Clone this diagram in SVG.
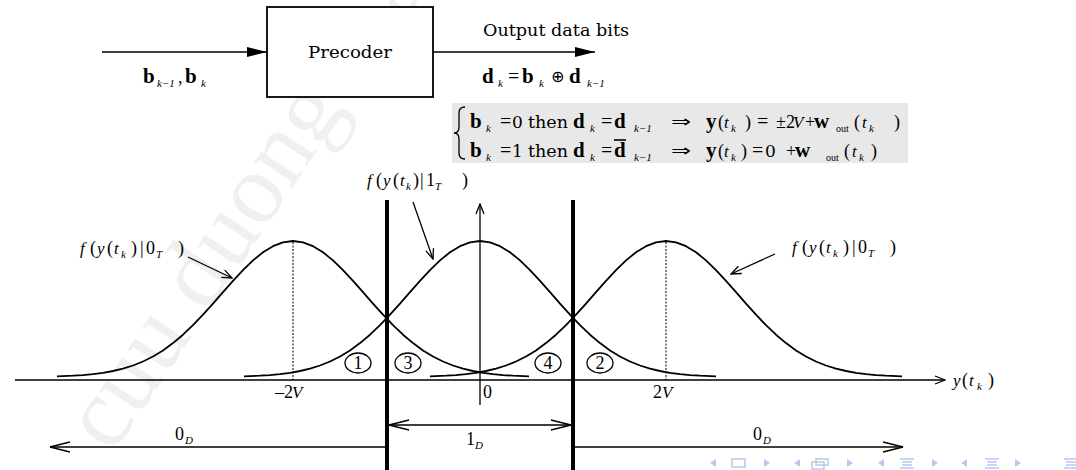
<svg xmlns="http://www.w3.org/2000/svg" xmlns:xlink="http://www.w3.org/1999/xlink" width="1076" height="470" viewBox="0 0 1076 470">
<style>
.ln{stroke:#000;stroke-width:1.3;fill:none}
.thick{stroke:#000;stroke-width:4;fill:none}
.cv{stroke:#000;stroke-width:1.8;fill:none;stroke-linejoin:round}
.dot{stroke:#000;stroke-width:1;stroke-dasharray:2,1.5;fill:none}
.t{font-family:"DejaVu Serif",serif;font-size:17px;fill:#000}
.m{font-family:"Liberation Serif",serif;font-size:18px;fill:#000}
.eq{font-family:"Liberation Serif",serif;font-size:20px;fill:#000}
.bd{font-family:"Liberation Serif",serif;font-size:21px;font-weight:bold;fill:#000}
.it{font-family:"Liberation Serif",serif;font-size:17px;font-style:italic;fill:#000}
.sub{font-family:"Liberation Serif",serif;font-size:11px;font-style:italic;fill:#000}
.subr{font-family:"Liberation Serif",serif;font-size:10px;fill:#000}
.sym{font-family:"DejaVu Sans",sans-serif;font-size:16px;fill:#000}
.circ{stroke:#000;stroke-width:1.3;fill:none}
.nav{fill:#b9c9ec}
.navs{stroke:#b9c9ec;stroke-width:1.5;fill:none}
</style>
<defs>
<marker id="af" viewBox="0 0 20 10" refX="20" refY="5" markerWidth="20" markerHeight="10" markerUnits="userSpaceOnUse" orient="auto"><path d="M0,0 L20,5 L0,10 z" fill="#000"/></marker>
<marker id="aoL" viewBox="0 0 22 12" refX="21" refY="6" markerWidth="22" markerHeight="12" markerUnits="userSpaceOnUse" orient="auto-start-reverse"><path d="M1,1 L21,6 L1,11" fill="none" stroke="#000" stroke-width="1.3"/></marker>
<marker id="aoS" viewBox="0 0 12 10" refX="11" refY="5" markerWidth="12" markerHeight="10" markerUnits="userSpaceOnUse" orient="auto"><path d="M1,1 L11,5 L1,9" fill="none" stroke="#000" stroke-width="1.3"/></marker>
<path id="gauss" d="M-236,376.3 L-220,375.7 L-210,375.1 L-200,374.1 L-190,372.8 L-180,371 L-170,368.6 L-160,365.5 L-150,361.5 L-140,356.5 L-130,350.4 L-120,343.1 L-110,334.7 L-100,325.2 L-90,314.7 L-80,303.6 L-70,292.2 L-60,280.9 L-50,270.1 L-40,260.4 L-30,252.3 L-20,246.2 L-10,242.3 L0,241 L10,242.3 L20,246.2 L30,252.3 L40,260.4 L50,270.1 L60,280.9 L70,292.2 L80,303.6 L90,314.7 L100,325.2 L110,334.7 L120,343.1 L130,350.4 L140,356.5 L150,361.5 L160,365.5 L170,368.6 L180,371 L190,372.8 L200,374.1 L210,375.1 L220,375.7 L236,376.3"/>
</defs>

<g id="watermark">
<text x="0" y="0" transform="translate(112,455) rotate(-56)" font-family="Liberation Serif, serif" font-size="100" fill="#f0f0f0">cuu duong than cong</text>
</g>

<g id="precoder">
<rect x="267" y="7" width="166" height="90" fill="#fff" stroke="#000" stroke-width="1.8"/>
<text class="t" x="308" y="58" textLength="84" lengthAdjust="spacingAndGlyphs">Precoder</text>
</g>

<g id="input-label">
<text class="bd" x="143" y="83" font-size="20">b</text>
<text class="sub" x="157" y="87" font-size="10">k−1</text>
<text class="m" x="178" y="83">,</text>
<text class="bd" x="185" y="83" font-size="20">b</text>
<text class="sub" x="201" y="87" font-size="10">k</text>
</g>

<g id="output-label">
<text class="t" x="483" y="36" textLength="146" lengthAdjust="spacingAndGlyphs">Output data bits</text>
<text class="bd" x="482" y="83" font-size="20">d</text>
<text class="sub" x="498" y="87" font-size="10">k</text>
<text class="eq" x="508" y="83">=</text>
<text class="bd" x="522" y="83" font-size="20">b</text>
<text class="sub" x="539" y="87" font-size="10">k</text>
<text class="sym" x="551" y="82" font-size="15">⊕</text>
<text class="bd" x="569" y="83" font-size="20">d</text>
<text class="sub" x="587" y="87" font-size="10">k−1</text>
</g>

<g id="equations">
<rect x="452" y="103" width="456" height="60" fill="#e8e8e8"/>
<path d="M465,107 Q459,107 459,113 L459,127 Q459,133 454,133 Q459,133 459,139 L459,153 Q459,159 465,159" class="ln" stroke-width="1.4"/>
<!-- line 1 -->
<text class="bd" x="470" y="128">b</text>
<text class="sub" x="486" y="132">k</text>
<text class="eq" x="500" y="128">=</text>
<text class="t" x="512" y="128">0</text>
<text class="t" x="528" y="128" textLength="40" lengthAdjust="spacingAndGlyphs">then</text>
<text class="bd" x="573" y="128">d</text>
<text class="sub" x="590" y="132">k</text>
<text class="eq" x="601" y="128">=</text>
<text class="bd" x="614" y="128">d</text>
<text class="sub" x="634" y="132" font-size="10">k−1</text>
<text class="sym" x="671" y="127" font-size="17" textLength="20" lengthAdjust="spacingAndGlyphs">⇒</text>
<text class="bd" x="706" y="128">y</text>
<text class="m" x="718" y="128">(</text>
<text class="it" x="724" y="128">t</text>
<text class="sub" x="731" y="132">k</text>
<text class="m" x="745" y="128">)</text>
<text class="eq" x="757" y="128">=</text>
<text class="m" x="776" y="128">±2</text>
<text class="it" x="793" y="128">V</text>
<text class="m" x="805" y="128">+</text>
<text class="bd" x="814" y="128">w</text>
<text class="subr" x="836" y="132">out</text>
<text class="m" x="854" y="128">(</text>
<text class="it" x="862" y="128">t</text>
<text class="sub" x="869" y="132">k</text>
<text class="m" x="894" y="128">)</text>
<!-- line 2 -->
<text class="bd" x="470" y="157">b</text>
<text class="sub" x="486" y="161">k</text>
<text class="eq" x="500" y="157">=</text>
<text class="t" x="512" y="157">1</text>
<text class="t" x="528" y="157" textLength="40" lengthAdjust="spacingAndGlyphs">then</text>
<text class="bd" x="573" y="157">d</text>
<text class="sub" x="590" y="161">k</text>
<text class="eq" x="601" y="157">=</text>
<text class="bd" x="614" y="157">d</text>
<line x1="614" y1="140" x2="626" y2="140" stroke="#000" stroke-width="1.6"/>
<text class="sub" x="634" y="161" font-size="10">k−1</text>
<text class="sym" x="671" y="156" font-size="17" textLength="20" lengthAdjust="spacingAndGlyphs">⇒</text>
<text class="bd" x="706" y="157">y</text>
<text class="m" x="718" y="157">(</text>
<text class="it" x="724" y="157">t</text>
<text class="sub" x="731" y="161">k</text>
<text class="m" x="741" y="157">)</text>
<text class="eq" x="752" y="157">=</text>
<text class="t" x="765" y="157">0</text>
<text class="m" x="786" y="157">+</text>
<text class="bd" x="795" y="157">w</text>
<text class="subr" x="826" y="161">out</text>
<text class="m" x="844" y="157">(</text>
<text class="it" x="852" y="157">t</text>
<text class="sub" x="859" y="161">k</text>
<text class="m" x="871" y="157">)</text>
</g>

<g id="curves">
<use xlink:href="#gauss" href="#gauss" x="293" class="cv"/>
<use xlink:href="#gauss" href="#gauss" x="480" class="cv"/>
<use xlink:href="#gauss" href="#gauss" x="666" class="cv"/>
<line class="dot" x1="293" y1="242" x2="293" y2="380"/>
<line class="dot" x1="666" y1="242" x2="666" y2="380"/>
</g>

<g id="thresholds">
<line class="thick" x1="387" y1="200" x2="387" y2="470"/>
<line class="thick" x1="573" y1="200" x2="573" y2="470"/>
</g>

<g id="regions">
<ellipse class="circ" cx="358" cy="363" rx="13" ry="10"/>
<text class="m" x="358" y="369" text-anchor="middle" font-size="16">1</text>
<ellipse class="circ" cx="408" cy="363" rx="13" ry="10"/>
<text class="m" x="408" y="369" text-anchor="middle" font-size="16">3</text>
<ellipse class="circ" cx="548" cy="363" rx="13" ry="10"/>
<text class="m" x="548" y="369" text-anchor="middle" font-size="16">4</text>
<ellipse class="circ" cx="600" cy="363" rx="13" ry="10"/>
<text class="m" x="600" y="369" text-anchor="middle" font-size="16">2</text>
</g>

<g id="connectors">
<line class="ln" x1="102" y1="52" x2="267" y2="52" stroke-width="1.6" marker-end="url(#af)"/>
<line class="ln" x1="433" y1="52" x2="595" y2="52" stroke-width="1.6" marker-end="url(#af)"/>
<line class="ln" x1="15" y1="380" x2="945" y2="380" marker-end="url(#aoS)"/>
<line class="ln" x1="480" y1="405" x2="480" y2="204" marker-end="url(#aoS)"/>
<line class="ln" x1="188" y1="257" x2="232" y2="278" marker-end="url(#aoS)"/>
<line class="ln" x1="413" y1="202" x2="433" y2="259" marker-end="url(#aoS)"/>
<line class="ln" x1="775" y1="254" x2="731" y2="274" marker-end="url(#aoS)"/>
<line class="ln" x1="389" y1="425" x2="571" y2="425" marker-start="url(#aoL)" marker-end="url(#aoL)"/>
<line class="ln" x1="385" y1="447" x2="50" y2="447" marker-end="url(#aoL)"/>
<line class="ln" x1="575" y1="447" x2="903" y2="447" marker-end="url(#aoL)"/>
</g>

<g id="axis-labels">
<text class="it" x="953" y="386">y</text>
<text class="m" x="962" y="386">(</text>
<text class="it" x="969" y="386">t</text>
<text class="sub" x="977" y="390">k</text>
<text class="m" x="988" y="386">)</text>
<text class="m" x="275" y="398" font-size="16">–2</text>
<text class="it" x="292" y="398" font-size="16">V</text>
<text class="m" x="483" y="398" font-size="16">0</text>
<text class="m" x="653" y="398" font-size="16">2</text>
<text class="it" x="662" y="398" font-size="16">V</text>
<text class="m" x="175" y="440" font-size="16">0</text>
<text class="sub" x="185" y="444">D</text>
<text class="m" x="466" y="445" font-size="16">1</text>
<text class="sub" x="475" y="449">D</text>
<text class="m" x="753" y="440" font-size="16">0</text>
<text class="sub" x="763" y="444">D</text>
</g>

<g id="pdf-labels">
<text class="it" x="80" y="254">f</text>
<text class="m" x="90" y="254" font-size="17">(</text>
<text class="it" x="97" y="254">y</text>
<text class="m" x="107" y="254" font-size="17">(</text>
<text class="it" x="114" y="254">t</text>
<text class="sub" x="121" y="258" font-size="10">k</text>
<text class="m" x="131" y="254" font-size="17">)</text>
<text class="m" x="140" y="254" font-size="17">|</text>
<text class="m" x="146" y="254" font-size="17">0</text>
<text class="sub" x="156" y="258" font-size="10">T</text>
<text class="m" x="178" y="254" font-size="17">)</text>

<text class="it" x="367" y="186">f</text>
<text class="m" x="376" y="186" font-size="17">(</text>
<text class="it" x="383" y="186">y</text>
<text class="m" x="393" y="186" font-size="17">(</text>
<text class="it" x="400" y="186">t</text>
<text class="sub" x="406" y="190" font-size="10">k</text>
<text class="m" x="413" y="186" font-size="17">)</text>
<text class="m" x="420" y="186" font-size="17">|</text>
<text class="m" x="426" y="186" font-size="17">1</text>
<text class="sub" x="435" y="190" font-size="10">T</text>
<text class="m" x="462" y="186" font-size="17">)</text>

<text class="it" x="792" y="253">f</text>
<text class="m" x="802" y="253" font-size="17">(</text>
<text class="it" x="809" y="253">y</text>
<text class="m" x="819" y="253" font-size="17">(</text>
<text class="it" x="826" y="253">t</text>
<text class="sub" x="833" y="257" font-size="10">k</text>
<text class="m" x="843" y="253" font-size="17">)</text>
<text class="m" x="852" y="253" font-size="17">|</text>
<text class="m" x="858" y="253" font-size="17">0</text>
<text class="sub" x="868" y="257" font-size="10">T</text>
<text class="m" x="890" y="253" font-size="17">)</text>
</g>

<g id="nav-symbols">
<path class="nav" d="M716,459 L710,463 L716,467 z"/>
<rect class="navs" x="732" y="459" width="13" height="8"/>
<path class="nav" d="M764,459 L770,463 L764,467 z"/>
<path class="nav" d="M800,459 L794,463 L800,467 z"/>
<rect class="navs" x="812" y="462" width="12" height="7"/>
<rect class="navs" x="816" y="459" width="12" height="6"/>
<path class="nav" d="M847,459 L853,463 L847,467 z"/>
<path class="nav" d="M884,459 L878,463 L884,467 z"/>
<path class="navs" d="M900,459 H914 M902,462 H912 M902,465 H912 M900,468 H914"/>
<path class="nav" d="M932,459 L938,463 L932,467 z"/>
<path class="nav" d="M967,459 L961,463 L967,467 z"/>
<path class="navs" d="M985,459 H999 M987,462 H997 M987,465 H997 M985,468 H999"/>
<path class="nav" d="M1015,459 L1021,463 L1015,467 z"/>
<path class="navs" d="M1064,459 H1076 M1066,462 H1076 M1066,465 H1076 M1064,468 H1076"/>
</g>
</svg>
